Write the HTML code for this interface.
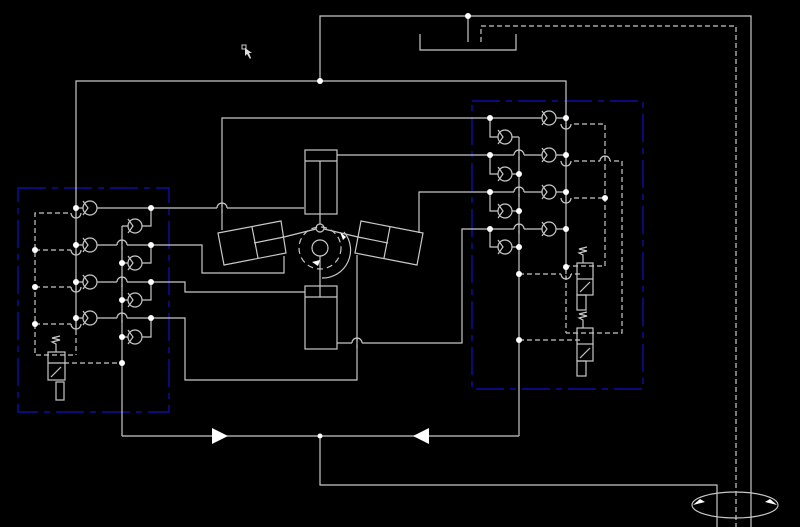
<!DOCTYPE html>
<html><head><style>html,body{margin:0;padding:0;background:#000}svg{display:block}</style></head>
<body>
<svg width="800" height="527" viewBox="0 0 800 527" xmlns="http://www.w3.org/2000/svg">
<defs>
<g id="cv"><circle cx="0" cy="0" r="7" fill="#000"/><polyline points="-7,-7 -2,0 -7,7"/></g>
</defs>
<rect width="800" height="527" fill="#000"/>
<g fill="none" stroke="#c8c8c8" stroke-width="1.2">
<rect x="18" y="188" width="151" height="224" stroke="#1010c0" stroke-dasharray="28,6,6,6"/>
<rect x="472" y="101" width="171" height="288" stroke="#1010c0" stroke-dasharray="28,6,6,6"/>
<polyline points="320,81 320,16 751,16 751,527"/>
<line x1="468" y1="16" x2="468" y2="42"/>
<polyline points="420,34 420,50 516,50 516,34"/>
<polyline points="481,42 481,26 736,26 736,527" stroke-dasharray="5,3"/>
<polyline points="76,330 76,81 566,81 566,267"/>
<line x1="76" y1="330" x2="76" y2="355" stroke-dasharray="5,3"/>
<line x1="566" y1="267" x2="566" y2="333" stroke-dasharray="5,3"/>
<line x1="76" y1="208" x2="304" y2="208"/>
<polyline points="76,245 202,245 202,273 284,273 284,256"/>
<polyline points="76,282 185,282 185,292 305,292"/>
<polyline points="76,318 185,318 185,380 357,380 357,255"/>
<line x1="122" y1="226" x2="122" y2="436"/>
<polyline points="122,226 151,226 151,208"/>
<polyline points="122,263 151,263 151,245"/>
<polyline points="122,300 151,300 151,282"/>
<polyline points="122,337 151,337 151,318"/>
<g stroke-dasharray="5,3">
<polyline points="76,213 35,213 35,355 76,355"/>
<line x1="35" y1="250" x2="76" y2="250"/>
<line x1="35" y1="287" x2="76" y2="287"/>
<line x1="35" y1="324" x2="76" y2="324"/>
<line x1="64" y1="363" x2="122" y2="363"/>
<polyline points="566,124 605,124 605,266 566,266"/>
<polyline points="566,161 622,161 622,333 566,333"/>
<line x1="566" y1="198" x2="605" y2="198"/>
<line x1="519" y1="274" x2="580" y2="274"/>
<line x1="519" y1="340" x2="580" y2="340"/>
</g>
<rect x="48" y="352" width="17" height="28"/>
<line x1="48" y1="363" x2="65" y2="363"/>
<line x1="51" y1="377" x2="61" y2="367"/>
<rect x="56" y="382" width="8" height="18"/>
<polyline points="56,352 56,344 52,342 60,340 52,338 60,336"/>
<rect x="577" y="263" width="16" height="32"/><line x1="577" y1="279" x2="593" y2="279"/><line x1="580" y1="292" x2="590" y2="282"/>
<rect x="577" y="295" width="9" height="15"/>
<polyline points="583,263 583,255 579,253 587,251 579,249 587,247"/>
<rect x="577" y="328" width="16" height="33"/><line x1="577" y1="344" x2="593" y2="344"/><line x1="580" y1="358" x2="590" y2="348"/>
<rect x="577" y="361" width="9" height="15"/>
<polyline points="583,328 583,320 579,318 587,316 579,314 587,312"/>
<polyline points="222,230 222,118 566,118"/>
<line x1="337" y1="155" x2="566" y2="155"/>
<polyline points="419,233 419,192 566,192"/>
<polyline points="337,343 462,343 462,229 566,229"/>
<line x1="519" y1="137" x2="519" y2="436"/>
<polyline points="490,118 490,137 519,137"/>
<polyline points="490,155 490,174 519,174"/>
<polyline points="490,192 490,211 519,211"/>
<polyline points="490,229 490,247 519,247"/>
<rect x="305" y="150" width="32" height="64"/><line x1="305" y1="161" x2="337" y2="161"/>
<line x1="320" y1="161" x2="320" y2="224"/>
<rect x="305" y="286" width="32" height="63"/><line x1="305" y1="297" x2="337" y2="297"/>
<line x1="320" y1="297" x2="320" y2="256"/>
<polygon points="218,233 281,221 286,253 224,265"/>
<line x1="252" y1="227" x2="258" y2="258"/><line x1="254" y1="243" x2="284" y2="237"/>
<line x1="284" y1="237" x2="316" y2="229"/>
<polygon points="361,221 423,233 417,265 355,253"/>
<line x1="390" y1="227" x2="384" y2="258"/><line x1="358" y1="237" x2="388" y2="243"/>
<line x1="324" y1="229" x2="358" y2="237"/>
<circle cx="320" cy="248" r="8"/>
<circle cx="320" cy="228" r="4"/>
<circle cx="320" cy="248" r="21" stroke-dasharray="6,4"/>
<path d="M344,232 A28,28 0 0 1 322,278"/>
<line x1="122" y1="436" x2="519" y2="436"/>
<polyline points="320,436 320,485 717,485 717,527"/>
<ellipse cx="735" cy="505" rx="43" ry="13"/>
</g>
<g fill="none" stroke="#c8c8c8" stroke-width="1.2">
<use href="#cv" x="90" y="208"/><use href="#cv" x="90" y="245"/><use href="#cv" x="90" y="282"/><use href="#cv" x="90" y="318"/>
<use href="#cv" x="135" y="226"/><use href="#cv" x="135" y="263"/><use href="#cv" x="135" y="300"/><use href="#cv" x="135" y="337"/>
<use href="#cv" x="549" y="118"/><use href="#cv" x="549" y="155"/><use href="#cv" x="549" y="192"/><use href="#cv" x="549" y="229"/>
<use href="#cv" x="505" y="137"/><use href="#cv" x="505" y="174"/><use href="#cv" x="505" y="211"/><use href="#cv" x="505" y="247"/>
</g>
<g stroke="#000" stroke-width="3">
<line x1="117" y1="245" x2="127" y2="245"/><line x1="117" y1="282" x2="127" y2="282"/><line x1="117" y1="318" x2="127" y2="318"/>
<line x1="217" y1="208" x2="227" y2="208"/><line x1="352" y1="343" x2="362" y2="343"/>
<line x1="514" y1="155" x2="524" y2="155"/><line x1="514" y1="192" x2="524" y2="192"/><line x1="514" y1="229" x2="524" y2="229"/>
<line x1="71" y1="213" x2="81" y2="213"/><line x1="71" y1="250" x2="81" y2="250"/><line x1="71" y1="287" x2="81" y2="287"/><line x1="71" y1="324" x2="81" y2="324"/>
<line x1="561" y1="124" x2="571" y2="124"/><line x1="561" y1="161" x2="571" y2="161"/><line x1="561" y1="198" x2="571" y2="198"/><line x1="561" y1="274" x2="571" y2="274"/><line x1="600" y1="161" x2="610" y2="161"/>
</g>
<g fill="none" stroke="#c8c8c8" stroke-width="1.2">
<line x1="122" y1="240" x2="122" y2="250"/><line x1="122" y1="277" x2="122" y2="287"/><line x1="122" y1="313" x2="122" y2="323"/>
<line x1="222" y1="203" x2="222" y2="213"/><line x1="357" y1="338" x2="357" y2="348"/>
<line x1="519" y1="150" x2="519" y2="160"/><line x1="519" y1="187" x2="519" y2="197"/><line x1="519" y1="224" x2="519" y2="234"/>
<line x1="76" y1="208" x2="76" y2="218"/><line x1="76" y1="245" x2="76" y2="255"/><line x1="76" y1="282" x2="76" y2="292"/><line x1="76" y1="318" x2="76" y2="329"/>
<line x1="566" y1="118" x2="566" y2="129"/><line x1="566" y1="155" x2="566" y2="166"/><line x1="566" y1="192" x2="566" y2="203"/>
<line x1="566" y1="269" x2="566" y2="279" stroke-dasharray="5,3"/><line x1="605" y1="156" x2="605" y2="166" stroke-dasharray="5,3"/>
<path d="M117,245 A5,5 0 0 1 127,245 M117,282 A5,5 0 0 1 127,282 M117,318 A5,5 0 0 1 127,318 M217,208 A5,5 0 0 1 227,208 M352,343 A5,5 0 0 1 362,343 M514,155 A5,5 0 0 1 524,155 M514,192 A5,5 0 0 1 524,192 M514,229 A5,5 0 0 1 524,229 M600,161 A5,5 0 0 1 610,161"/>
<path d="M71,213 A5,5 0 0 0 81,213 M71,250 A5,5 0 0 0 81,250 M71,287 A5,5 0 0 0 81,287 M71,324 A5,5 0 0 0 81,324 M561,124 A5,5 0 0 0 571,124 M561,161 A5,5 0 0 0 571,161 M561,198 A5,5 0 0 0 571,198 M561,274 A5,5 0 0 0 571,274"/>
</g>
<g fill="#fff">
<polygon points="212,428 228,436 212,444"/>
<polygon points="429,428 413,436 429,444"/>
<polygon points="340,232 346,237 343,240"/>
<polygon points="312,262 320,260 318,266"/>
<polygon points="693,505 700,499 705,502"/>
<polygon points="777,505 770,499 765,502"/>
</g>
<g fill="#fff">
<circle cx="320" cy="81" r="3"/><circle cx="468" cy="16" r="3"/><circle cx="320" cy="436" r="2.5"/>
<circle cx="76" cy="208" r="3"/><circle cx="76" cy="245" r="3"/><circle cx="76" cy="282" r="3"/><circle cx="76" cy="318" r="3"/>
<circle cx="151" cy="208" r="3"/><circle cx="151" cy="245" r="3"/><circle cx="151" cy="282" r="3"/><circle cx="151" cy="318" r="3"/>
<circle cx="122" cy="263" r="3"/><circle cx="122" cy="300" r="3"/><circle cx="122" cy="337" r="3"/><circle cx="122" cy="363" r="3"/>
<circle cx="35" cy="250" r="3"/><circle cx="35" cy="287" r="3"/><circle cx="35" cy="324" r="3"/>
<circle cx="566" cy="118" r="3"/><circle cx="566" cy="155" r="3"/><circle cx="566" cy="192" r="3"/><circle cx="566" cy="229" r="3"/><circle cx="566" cy="267" r="3"/>
<circle cx="490" cy="118" r="3"/><circle cx="490" cy="155" r="3"/><circle cx="490" cy="192" r="3"/><circle cx="490" cy="229" r="3"/>
<circle cx="519" cy="174" r="3"/><circle cx="519" cy="211" r="3"/><circle cx="519" cy="247" r="3"/><circle cx="519" cy="274" r="3"/><circle cx="519" cy="340" r="3"/>
<circle cx="605" cy="198" r="3"/>
</g>
<rect x="242" y="45" width="4" height="4" fill="none" stroke="#ccc"/>
<polygon points="245,48 245,56 247,54 250,59 251,58 249,53 252,53" fill="#ddd"/>
</svg>
</body></html>
